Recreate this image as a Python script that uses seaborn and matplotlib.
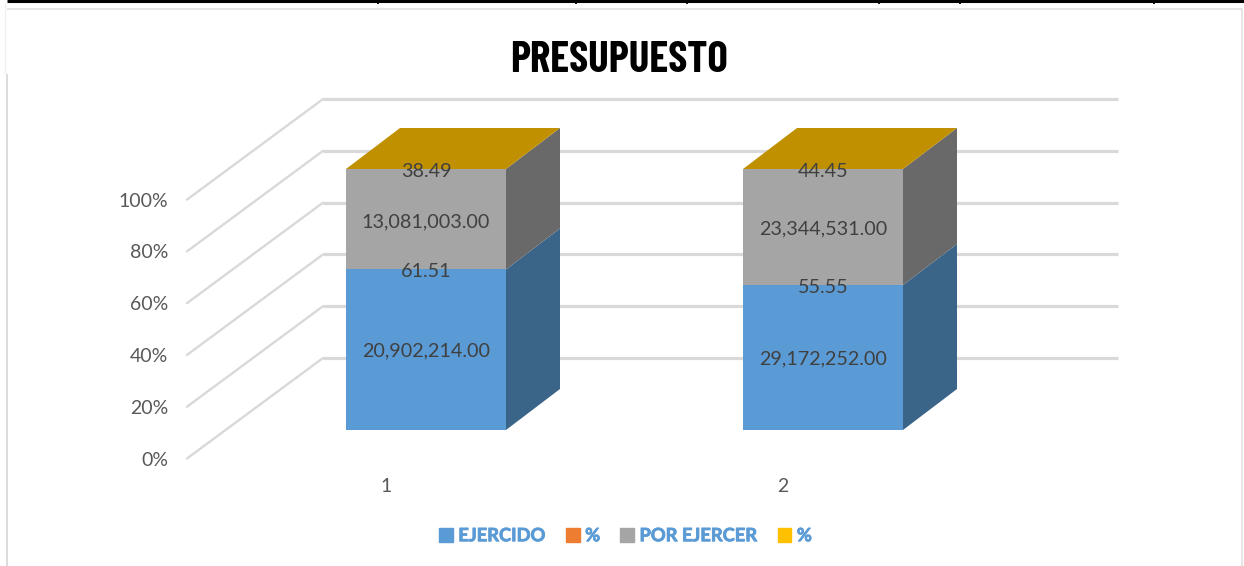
import matplotlib
matplotlib.use("Agg")
import matplotlib.pyplot as plt
import numpy as np
import pandas as pd
import seaborn as sns
from matplotlib.lines import Line2D
from matplotlib.patches import Patch, Polygon
from matplotlib.patheffects import withStroke

# -----------------------------
# DATA
# -----------------------------
categories = ["1", "2"]
ejercido = [20902214.00, 29172252.00]
por_ejercer = [13081003.00, 23344531.00]
pct_ejercido = [61.51, 55.55]
pct_por_ejercer = [38.49, 44.45]
y_ticks = [0, 20, 40, 60, 80, 100]
y_tick_labels = ["0%", "20%", "40%", "60%", "80%", "100%"]
legend_labels = ["EJERCIDO", "%", "POR EJERCER", "%"]

# -----------------------------
# STYLE
# -----------------------------
BLUE = "#5B9BD5"
BLUE_SIDE = "#3A6488"
GREY = "#A5A5A5"
GREY_SIDE = "#696969"
GOLD_TOP = "#C09000"
ORANGE = "#ED7D31"
YELLOW = "#FFC000"
GRID = "#D9D9D9"
TEXT = "#404040"

W, H = 1244, 566

# axes box in pixels
LEFT, RIGHT, TOP, BOTTOM = 175, 1120, 90, 470
BAR_CENTER_PX = 426.0
PX_PER_CAT = 397.0
PX_PER_PCT = 2.61

# 3d look
DEPTH_X = 54 / PX_PER_CAT
DEPTH_Y = 41 / PX_PER_PCT
WALL_FRONT_X = (187 - BAR_CENTER_PX) / PX_PER_CAT
WALL_BACK_X = (323 - BAR_CENTER_PX) / PX_PER_CAT
WALL_END_X = (1118 - BAR_CENTER_PX) / PX_PER_CAT
WALL_FRONT_BASE = (430 - 458.5) / PX_PER_PCT
WALL_BACK_BASE = (430 - 358) / PX_PER_PCT
WALL_SCALE = 0.992
BAR_WIDTH = 160 / PX_PER_CAT

sns.set_theme(style="white")
plt.rcParams["font.family"] = ["Lato", "DejaVu Sans"]

df = pd.DataFrame({
    "cat": categories,
    "ejercido": pct_ejercido,
    "por_ejercer": pct_por_ejercer,
})

fig = plt.figure(figsize=(W / 100, H / 100), dpi=100)
ax = fig.add_axes([LEFT / W, 1 - BOTTOM / H, (RIGHT - LEFT) / W, (BOTTOM - TOP) / H])
ax.patch.set_alpha(0)

# front faces
sns.barplot(data=df, x="cat", y="ejercido", color=BLUE, saturation=1,
            width=BAR_WIDTH, linewidth=0, ax=ax, zorder=3)
sns.barplot(data=df, x="cat", y="por_ejercer", bottom=df["ejercido"], color=GREY,
            saturation=1, width=BAR_WIDTH, linewidth=0, ax=ax, zorder=3)

ax.set_xlim((LEFT - BAR_CENTER_PX) / PX_PER_CAT, (RIGHT - BAR_CENTER_PX) / PX_PER_CAT)
ax.set_ylim((430 - BOTTOM) / PX_PER_PCT, (430 - TOP) / PX_PER_PCT)

# back wall gridlines and left wall
for t in y_ticks:
    front_y = WALL_FRONT_BASE + t * WALL_SCALE
    back_y = WALL_BACK_BASE + t * WALL_SCALE
    ax.plot([WALL_BACK_X, WALL_END_X], [back_y, back_y], color=GRID, lw=2.3, zorder=1,
            solid_capstyle="butt")
    ax.plot([WALL_FRONT_X, WALL_BACK_X], [front_y, back_y], color=GRID, lw=1.7, zorder=1)

# side and top faces of the bars
for i in range(len(categories)):
    x1 = i + BAR_WIDTH / 2
    x0 = i - BAR_WIDTH / 2
    h1 = pct_ejercido[i]
    h2 = h1 + pct_por_ejercer[i]
    ax.add_patch(Polygon([(x1, 0), (x1 + DEPTH_X, DEPTH_Y), (x1 + DEPTH_X, h1 + DEPTH_Y), (x1, h1)],
                         facecolor=BLUE_SIDE, edgecolor="none", zorder=3))
    ax.add_patch(Polygon([(x1, h1), (x1 + DEPTH_X, h1 + DEPTH_Y), (x1 + DEPTH_X, h2 + DEPTH_Y), (x1, h2)],
                         facecolor=GREY_SIDE, edgecolor="none", zorder=3))
    ax.add_patch(Polygon([(x0, h2), (x1, h2), (x1 + DEPTH_X, h2 + DEPTH_Y), (x0 + DEPTH_X, h2 + DEPTH_Y)],
                         facecolor=GOLD_TOP, edgecolor="none", zorder=3))

    # data labels
    ax.text(i, h1 / 2 - 0.4, f"{ejercido[i]:,.2f}", ha="center", va="center",
            color=TEXT, fontsize=14.2, zorder=5)
    ax.text(i, h1 - 0.8, f"{pct_ejercido[i]:.2f}", ha="center", va="center",
            color=TEXT, fontsize=14.2, zorder=5)
    ax.text(i, h1 + (h2 - h1) / 2 - 0.9, f"{por_ejercer[i]:,.2f}", ha="center", va="center",
            color=TEXT, fontsize=14.2, zorder=5)
    ax.text(i, h2 - 0.8, f"{pct_por_ejercer[i]:.2f}", ha="center", va="center",
            color=TEXT, fontsize=14.2, zorder=5)

# axes ticks, no spines
sns.despine(ax=ax, left=True, bottom=True)
ax.set_xlabel("")
ax.set_ylabel("")
ax.set_yticks([WALL_FRONT_BASE + t * WALL_SCALE for t in y_ticks])
ax.set_yticklabels(y_tick_labels)
ax.set_xticks([i - 40 / PX_PER_CAT for i in range(len(categories))])
ax.set_xticklabels(categories)
ax.tick_params(axis="both", length=0, labelcolor="#595959", labelsize=14)
ax.tick_params(axis="y", pad=4.8)
ax.tick_params(axis="x", pad=6)

# title
fig.text(619.5 / W, 1 - 60 / H, "PRESUPUESTO", ha="center", va="center",
         fontsize=31, fontweight="bold", color="black",
         family=["Barlow Condensed", "Roboto", "DejaVu Sans"])

# legend
handles = [Patch(color=BLUE), Patch(color=ORANGE), Patch(color=GREY), Patch(color=YELLOW)]
leg = fig.legend(handles, legend_labels, loc="center", bbox_to_anchor=(625.5 / W, 1 - 535.7 / H), ncol=4,
                 frameon=False, labelcolor=BLUE, handlelength=0.75, handleheight=0.75,
                 handletextpad=0.3, columnspacing=1.09,
                 prop={"weight": "bold", "size": 13.2})
for t in leg.get_texts():
    t.set_path_effects([withStroke(linewidth=0.6, foreground=BLUE)])

# frame of the embedded chart and table rule above it
def px_line(xs, ys, color, lw):
    fig.add_artist(Line2D([x / W for x in xs], [1 - y / H for y in ys], color=color, lw=lw,
                          transform=fig.transFigure, solid_capstyle="butt"))

px_line([7, 1244], [1, 1], "black", 2.2)
for x in [378, 576, 687, 879, 960, 1154]:
    px_line([x, x], [0, 3.5], "black", 1.3)
px_line([7, 1242], [8.5, 8.5], "#E4E4E4", 1.3)
px_line([1242, 1242], [8, 566], "#E4E4E4", 1.3)
px_line([6.5, 6.5], [74, 566], "#D9D9D9", 1.3)
px_line([5, 5], [3, 74], "#F0F0F0", 1)

plt.savefig("out.png", dpi=100)
plt.close()
